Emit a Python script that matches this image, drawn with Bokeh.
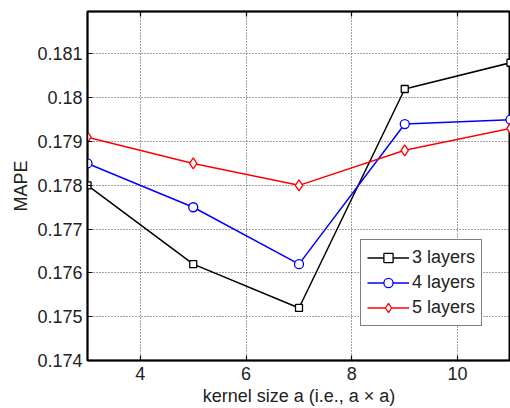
from bokeh.plotting import figure
from bokeh.models import Range1d, FixedTicker, Legend, LegendItem, LinearAxis
from bokeh.embed import file_html
from bokeh.resources import INLINE

kernel = [3, 5, 7, 9, 11]
mape_3 = [0.1780, 0.1762, 0.1752, 0.1802, 0.1808]
mape_4 = [0.1785, 0.1775, 0.1762, 0.1794, 0.1795]
mape_5 = [0.1791, 0.1785, 0.1780, 0.1788, 0.1793]
x_ticks = [4, 6, 8, 10]
y_ticks = [0.174, 0.175, 0.176, 0.177, 0.178, 0.179, 0.18, 0.181]
y_labels = {0.174: "0.174", 0.175: "0.175", 0.176: "0.176", 0.177: "0.177",
            0.178: "0.178", 0.179: "0.179", 0.18: "0.18", 0.181: "0.181"}
y_min, y_max = 0.174, 0.18197
x_min, x_max = 3, 11

FONT = "Liberation Sans"
FS = "18px"

p = figure(width=510, height=408, output_backend="svg", toolbar_location=None,
           x_range=Range1d(x_min, x_max), y_range=Range1d(y_min, y_max),
           min_border_left=87, min_border_top=11, min_border_right=0, min_border_bottom=48,
           background_fill_color="white", border_fill_color="white")
p.outline_line_color = "black"
p.outline_line_width = 2

for ax in (p.xaxis[0], p.yaxis[0]):
    ax.axis_line_color = "black"
    ax.axis_line_width = 1.5
    ax.major_tick_in = 5
    ax.major_tick_out = 0
    ax.major_tick_line_width = 1.2
    ax.minor_tick_line_color = None
    ax.major_label_text_font = FONT
    ax.major_label_text_font_size = FS
    ax.major_label_text_color = "#222222"
    ax.axis_label_text_font = FONT
    ax.axis_label_text_font_size = FS
    ax.axis_label_text_font_style = "normal"
    ax.axis_label_text_color = "#222222"

p.xaxis.ticker = FixedTicker(ticks=x_ticks)
p.yaxis.ticker = FixedTicker(ticks=y_ticks)
p.yaxis.major_label_overrides = y_labels
p.xaxis.axis_label = "kernel size a (i.e., a \u00d7 a)"
p.yaxis.axis_label = "MAPE"
p.xaxis.major_label_standoff = 6
p.xaxis.axis_label_standoff = 3
p.yaxis.major_label_standoff = 5
p.yaxis.axis_label_standoff = 3

# top edge of the box with inward ticks (its labels are not drawn)
top = LinearAxis(ticker=FixedTicker(ticks=x_ticks), major_tick_in=5, major_tick_out=0,
                 major_tick_line_width=1.2, minor_tick_line_color=None,
                 axis_line_color="black", axis_line_width=1.5,
                 major_label_text_color=None, major_label_text_font_size="1px",
                 major_label_standoff=0)
p.add_layout(top, "above")

p.grid.grid_line_color = "#444444"
p.grid.grid_line_dash = "1 2"
p.grid.grid_line_width = 1
p.xgrid.ticker = FixedTicker(ticks=x_ticks)
p.ygrid.ticker = FixedTicker(ticks=y_ticks)

l3 = p.line(kernel, mape_3, line_color="black", line_width=1.5)
m3 = p.scatter(kernel, mape_3, marker="square", size=7, line_color="black",
               fill_color="white", line_width=1.3)
l4 = p.line(kernel, mape_4, line_color="#0000ff", line_width=1.5)
m4 = p.scatter(kernel, mape_4, marker="circle", size=9, line_color="#0000ff",
               fill_color="white", line_width=1.3)
l5 = p.line(kernel, mape_5, line_color="#ff0000", line_width=1.5)
m5 = p.scatter(kernel, mape_5, marker="diamond", size=11, line_color="#ff0000",
               fill_color="white", line_width=1.3)

legend = Legend(items=[LegendItem(label="3 layers", renderers=[l3, m3]),
                       LegendItem(label="4 layers", renderers=[l4, m4]),
                       LegendItem(label="5 layers", renderers=[l5, m5])],
                location=(273, 34), glyph_width=42, glyph_height=23, label_height=23,
                spacing=2, padding=6, margin=0, label_standoff=3,
                label_text_font=FONT, label_text_font_size=FS, label_text_color="#222222",
                border_line_color="black", border_line_width=1.5,
                background_fill_color="white", background_fill_alpha=1)
p.add_layout(legend, "center")

open("out.html", "w").write(file_html(p, INLINE))
